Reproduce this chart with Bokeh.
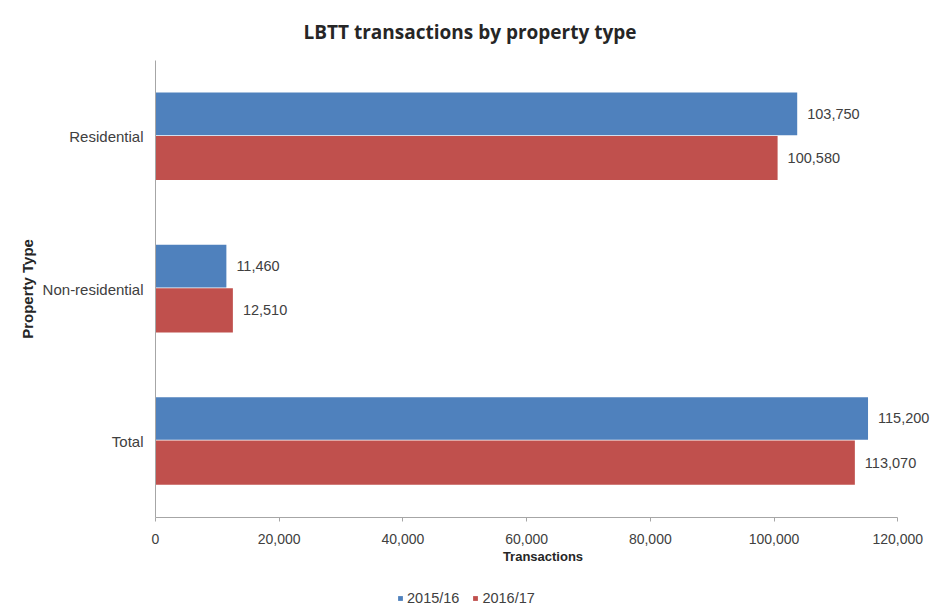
from bokeh.plotting import figure
from bokeh.layouts import column
from bokeh.models import (FactorRange, Range1d, ColumnDataSource, NumeralTickFormatter,
                          Legend, LegendItem, Title, FixedTicker)
from bokeh.transform import dodge
from bokeh.embed import file_html
from bokeh.resources import INLINE
from bokeh.core.properties import value

categories = ["Residential", "Non-residential", "Total"]
series_names = ["2015/16", "2016/17"]
values_2015_16 = [103750, 11460, 115200]
values_2016_17 = [100580, 12510, 113070]
x_ticks = [0, 20000, 40000, 60000, 80000, 100000, 120000]
title_text = "LBTT transactions by property type"
x_title = "Transactions"
y_title = "Property Type"

BLUE = "#4F81BD"
RED = "#C0504D"
TXT = "#404040"
FONT = "Liberation Sans"

source = ColumnDataSource(dict(
    cat=categories,
    v1=values_2015_16,
    v2=values_2016_17,
    l1=[f"{v:,}" for v in values_2015_16],
    l2=[f"{v:,}" for v in values_2016_17],
))

p = figure(
    y_range=FactorRange(factors=categories[::-1]),
    x_range=Range1d(0, 125300),
    frame_width=775, frame_height=457,
    min_border_left=155, min_border_right=0,
    min_border_top=60, min_border_bottom=54,
    output_backend="svg", toolbar_location=None,
)

r1 = p.hbar(y=dodge("cat", 0.15, range=p.y_range), right="v1", left=0, height=0.28,
            source=source, fill_color=BLUE, line_color=None)
r2 = p.hbar(y=dodge("cat", -0.14, range=p.y_range), right="v2", left=0, height=0.29,
            source=source, fill_color=RED, line_color=None)

p.text(x="v1", y=dodge("cat", 0.15, range=p.y_range), text="l1", source=source,
       x_offset=10, text_baseline="middle", text_font=value(FONT),
       text_font_size="14.5px", text_color=TXT)
p.text(x="v2", y=dodge("cat", -0.14, range=p.y_range), text="l2", source=source,
       x_offset=10, text_baseline="middle", text_font=value(FONT),
       text_font_size="14.5px", text_color=TXT)

p.title = Title(text=title_text, align="left", offset=148, text_font="Open Sans",
                text_font_size="19px", text_font_style="bold", text_color="#262626",
                standoff=31)

p.outline_line_color = None
p.xgrid.grid_line_color = None
p.ygrid.grid_line_color = None
p.background_fill_color = "white"
p.border_fill_color = "white"

p.xaxis.ticker = FixedTicker(ticks=x_ticks)
p.xaxis.formatter = NumeralTickFormatter(format="0,0")
p.xaxis.bounds = (0, 120000)
p.xaxis.axis_line_color = "#A6A6A6"
p.xaxis.major_tick_line_color = "#A6A6A6"
p.xaxis.major_tick_out = 4
p.xaxis.major_tick_in = 0
p.xaxis.minor_tick_line_color = None
p.xaxis.major_label_text_font = FONT
p.xaxis.major_label_text_font_size = "14px"
p.xaxis.major_label_text_color = TXT
p.xaxis.major_label_standoff = 12
p.xaxis.axis_label = x_title
p.xaxis.axis_label_text_font = FONT
p.xaxis.axis_label_text_font_size = "13px"
p.xaxis.axis_label_text_font_style = "bold"
p.xaxis.axis_label_text_color = "#262626"
p.xaxis.axis_label_standoff = 2

p.yaxis.axis_line_color = "#A6A6A6"
p.yaxis.major_tick_line_color = None
p.yaxis.major_tick_out = 0
p.yaxis.major_tick_in = 0
p.yaxis.major_label_text_font = FONT
p.yaxis.major_label_text_font_size = "15px"
p.yaxis.major_label_text_color = TXT
p.yaxis.major_label_standoff = 12
p.yaxis.axis_label = y_title
p.yaxis.axis_label_text_font = FONT
p.yaxis.axis_label_text_font_size = "15px"
p.yaxis.axis_label_text_font_style = "bold"
p.yaxis.axis_label_text_color = "#262626"
p.yaxis.axis_label_standoff = 4

# Legend strip: a second figure whose x range excludes the bars, holding only the legend
p2 = figure(
    y_range=p.y_range, x_range=Range1d(-2, -1),
    frame_width=930, frame_height=38,
    min_border_left=0, min_border_right=0, min_border_top=0, min_border_bottom=0,
    x_axis_location=None, y_axis_location=None,
    output_backend="svg", toolbar_location=None,
)
p2.outline_line_color = None
p2.xgrid.grid_line_color = None
p2.ygrid.grid_line_color = None
p2.border_fill_color = "white"
lr1 = p2.hbar(y="cat", right="v1", left=0, height=0.28, source=source,
              fill_color=BLUE, line_color=None)
lr2 = p2.hbar(y="cat", right="v2", left=0, height=0.29, source=source,
              fill_color=RED, line_color=None)

legend = Legend(items=[LegendItem(label=series_names[0], renderers=[lr1]),
                       LegendItem(label=series_names[1], renderers=[lr2])],
                orientation="horizontal", location=(397, 3),
                glyph_width=6, glyph_height=6, label_text_font=FONT,
                label_text_font_size="14.5px", label_text_color=TXT,
                border_line_color=None, background_fill_alpha=0,
                spacing=13, label_standoff=4, padding=4, margin=0)
p2.add_layout(legend, "center")

layout = column(p, p2, spacing=0)

open("out.html", "w").write(file_html(layout, INLINE))
